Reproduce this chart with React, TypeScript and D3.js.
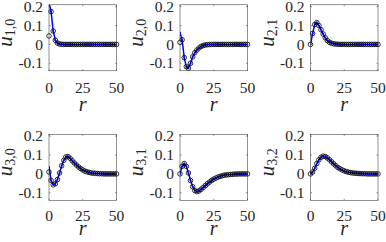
import React from "react";
import * as d3 from "d3";

// radial grid shared by all panels
const R = [0, 1.56, 3.13, 4.69, 6.25, 7.81, 9.38, 10.94, 12.5, 14.06, 15.63, 17.19, 18.75, 20.31, 21.88, 23.44, 25, 26.56, 28.13, 29.69, 31.25, 32.81, 34.38, 35.94, 37.5, 39.06, 40.63, 42.19, 43.75, 45.31, 46.88, 48.44, 50];

// the tails are zero
const pad = (a: number[]) => [...a, ...Array(R.length - a.length).fill(0)];

const U10 = pad([0.045, 0.174, 0.071, 0.022, 0.007, 0.002, 0.001]);
const U20 = pad([0.011, 0.025, -0.07, -0.118, -0.126, -0.1, -0.066, -0.044, -0.03, -0.019, -0.011, -0.006, -0.003, -0.0015, -0.001]);
const U21 = pad([0, 0.058, 0.105, 0.116, 0.1, 0.078, 0.055, 0.035, 0.02, 0.011, 0.006, 0.003, 0.0015, 0.001]);
const U30 = pad([0.01, -0.035, -0.058, -0.052, -0.03, 0.005, 0.043, 0.072, 0.09, 0.092, 0.083, 0.07, 0.058, 0.047, 0.037, 0.028, 0.021, 0.015, 0.011, 0.008, 0.005, 0.004, 0.003, 0.002, 0.001, 0.001]);
const U31 = pad([0, 0.04, 0.055, 0.04, 0.005, -0.035, -0.068, -0.088, -0.094, -0.09, -0.082, -0.072, -0.062, -0.052, -0.043, -0.035, -0.028, -0.022, -0.017, -0.013, -0.01, -0.007, -0.005, -0.004, -0.003, -0.002, -0.001, -0.001]);
const U32 = pad([0, 0.01, 0.03, 0.055, 0.075, 0.088, 0.094, 0.092, 0.085, 0.075, 0.064, 0.053, 0.043, 0.034, 0.027, 0.021, 0.016, 0.012, 0.009, 0.007, 0.005, 0.004, 0.003, 0.002, 0.0015, 0.001, 0.001]);

// the blue curve differs from the circles only at r = 0
const LINE_START = [0.22, 0.062, 0, 0.037, 0, 0];
const SERIES = [U10, U20, U21, U30, U31, U32];
const SUBSCRIPTS = ["1,0", "2,0", "2,1", "3,0", "3,1", "3,2"];

const X_TICKS = [0, 25, 50];
const Y_TICKS = [-0.1, 0, 0.1, 0.2];
const Y_TICK_LABELS = ["-0.1", "0", "0.1", "0.2"];

const COL_LEFT = [49, 180, 310.5];
const ROW_TOP = [4.8, 134.3];
const XTICK_Y = [88, 216];
const XLABEL_Y = [107, 231];
const W = 67.5;
const H = 66;
const FONT = { fontFamily: '"Liberation Serif", "Times New Roman"' };
const AX = "#262626";

function Panel({ idx }: { idx: number }) {
  const row = Math.floor(idx / 3);
  const left = COL_LEFT[idx % 3];
  const top = ROW_TOP[row];
  const values = SERIES[idx];
  const lineVals = [LINE_START[idx], ...values.slice(1)];

  const x = d3.scaleLinear().domain([0, 50]).range([left, left + W]);
  const y = d3.scaleLinear().domain([-0.14, 0.21]).range([top + H, top]);
  const line = d3
    .line<number>()
    .x((_, i) => x(R[i]))
    .y((d) => y(d));
  const clipId = `clip${idx}`;

  return (
    <g>
      <clipPath id={clipId}>
        <rect x={left} y={top} width={W} height={H} />
      </clipPath>
      <g clipPath={`url(#${clipId})`}>
        <path d={line(lineVals) ?? ""} fill="none" stroke="#0000ff" strokeWidth={1.5} />
        {lineVals.map((v, i) => (
          <circle key={"d" + i} cx={x(R[i])} cy={y(v)} r={1} fill="#0000ff" />
        ))}
      </g>
      {values.map((v, i) => (
        <circle key={"c" + i} cx={x(R[i])} cy={y(v)} r={2.3} fill="none" stroke="black" strokeWidth={0.8} />
      ))}
      <rect x={left} y={top} width={W} height={H} fill="none" stroke={AX} strokeWidth={0.5} />
      {X_TICKS.map((t) => (
        <g key={"x" + t}>
          <line x1={x(t)} x2={x(t)} y1={top + H} y2={top + H - 1.5} stroke={AX} strokeWidth={0.5} />
          <line x1={x(t)} x2={x(t)} y1={top} y2={top + 1.5} stroke={AX} strokeWidth={0.5} />
          <text x={x(t)} y={XTICK_Y[row] + 5} textAnchor="middle" fontSize={15.5} fill={AX} style={FONT}>
            {t}
          </text>
        </g>
      ))}
      {Y_TICKS.map((t, i) => (
        <g key={"y" + t}>
          <line x1={left} x2={left + 1.5} y1={y(t)} y2={y(t)} stroke={AX} strokeWidth={0.5} />
          <line x1={left + W} x2={left + W - 1.5} y1={y(t)} y2={y(t)} stroke={AX} strokeWidth={0.5} />
          <text x={left - 6} y={y(t) + 5.2} textAnchor="end" fontSize={15.5} fill={AX} style={FONT}>
            {Y_TICK_LABELS[i]}
          </text>
        </g>
      ))}
      <text x={left + W / 2} y={XLABEL_Y[row] + 4} textAnchor="middle" fontSize={20} fontStyle="italic" fill={AX} style={FONT}>
        r
      </text>
      <text transform={`translate(${left - 37},${top + H / 2 - 5}) rotate(-90)`} textAnchor="middle" fill={AX} style={FONT}>
        <tspan fontSize={21} fontStyle="italic">u</tspan>
        <tspan fontSize={14} dy={3}>{SUBSCRIPTS[idx]}</tspan>
      </text>
    </g>
  );
}

export default function App() {
  return (
    <svg width={386} height={242} style={{ position: "absolute", left: 0, top: 0, background: "white" }}>
      {SERIES.map((_, i) => (
        <Panel key={i} idx={i} />
      ))}
    </svg>
  );
}
